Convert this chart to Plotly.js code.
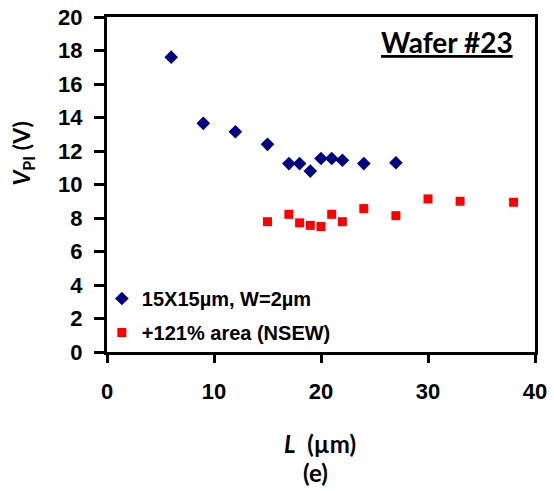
<!DOCTYPE html>
<html>
<head>
<meta charset="utf-8">
<script src="https://cdn.plot.ly/plotly-3.0.1.min.js"></script>
<style>body{margin:0;padding:0;background:#fff;}#chart{width:554px;height:491px;}</style>
</head>
<body>
<div id="chart"></div>
<script>
const seriesNames = ["15X15µm, W=2µm", "+121% area (NSEW)"];
const blueL = [6, 9, 12, 15, 17, 18, 19, 20, 21, 22, 24, 27];
const blueV = [17.6, 13.65, 13.15, 12.4, 11.25, 11.25, 10.8, 11.55, 11.55, 11.45, 11.25, 11.3];
const redL = [15, 17, 18, 19, 20, 21, 22, 24, 27, 30, 33, 38];
const redV = [7.78, 8.22, 7.71, 7.56, 7.49, 8.22, 7.78, 8.56, 8.14, 9.14, 9.0, 8.94];
const xTicks = [0, 10, 20, 30, 40];
const yTicks = [0, 2, 4, 6, 8, 10, 12, 14, 16, 18, 20];

const traces = [
  {x: blueL, y: blueV, name: seriesNames[0], type: 'scatter', mode: 'markers', legendgroup: 'a',
   marker: {symbol: 'diamond', size: 10.5, color: '#000080'}},
  {x: redL, y: redV, name: seriesNames[1], type: 'scatter', mode: 'markers', legendgroup: 'b',
   marker: {symbol: 'square', size: 9, color: '#ff0000'}}
];

const tickFont = {family: 'Liberation Sans', size: 22, color: '#000', weight: 'bold'};
const titleFont = {family: 'Lato', size: 24, color: '#000', weight: 'bold'};

const layout = {
  width: 554, height: 491,
  margin: {l: 107, r: 19, t: 17, b: 139},
  paper_bgcolor: '#fff', plot_bgcolor: '#fff',
  showlegend: true,
  legend: {x: -0.012, y: 0.0, xanchor: 'left', yanchor: 'bottom', bgcolor: 'rgba(0,0,0,0)',
    font: {family: 'Liberation Sans', size: 20, color: '#000', weight: 'bold'},
    traceorder: 'grouped', tracegroupgap: 5, itemwidth: 30},
  xaxis: {range: [0, 40], tickvals: xTicks,
    ticks: 'outside', ticklen: 8, tickwidth: 3, tickcolor: '#000',
    showline: true, linecolor: '#000', linewidth: 3, mirror: true, showgrid: false, zeroline: false,
    tickfont: tickFont, ticklabelstandoff: 10},
  yaxis: {range: [0, 20], tickvals: yTicks,
    ticks: 'outside', ticklen: 10, tickwidth: 3, tickcolor: '#000',
    showline: true, linecolor: '#000', linewidth: 3, mirror: true, showgrid: false, zeroline: false,
    tickfont: tickFont, ticklabelstandoff: 7},
  annotations: [
    {text: '<u>Wafer #23</u>', xref: 'paper', yref: 'paper', x: 0.794, y: 0.925, xanchor: 'center', yanchor: 'middle', showarrow: false,
     font: {family: 'Lato', size: 28, color: '#000', weight: 'bold'}},
    {text: '<i>V</i><sub>PI</sub> (V)', xref: 'paper', yref: 'paper', x: -0.198, y: 0.593, xanchor: 'center', yanchor: 'middle', textangle: -90, showarrow: false,
     font: {family: 'Lato', size: 23, color: '#000', weight: 'bold'}},
    {text: '<i>L</i>  (µm)', xref: 'paper', yref: 'paper', x: 0.498, y: -0.272, xanchor: 'center', yanchor: 'middle', showarrow: false, font: titleFont},
    {text: '(e)', xref: 'paper', yref: 'paper', x: 0.487, y: -0.36, xanchor: 'center', yanchor: 'middle', showarrow: false, font: titleFont}
  ]
};

Plotly.newPlot('chart', traces, layout, {displayModeBar: false, staticPlot: true});
</script>
</body>
</html>
